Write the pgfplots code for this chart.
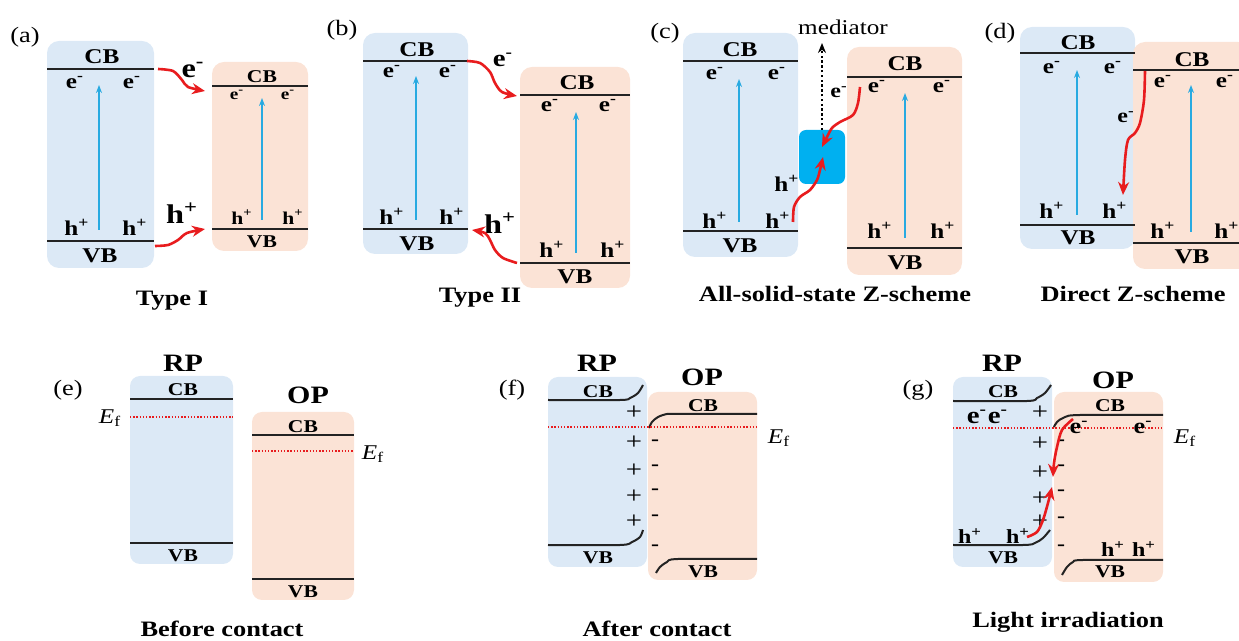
\documentclass[border=0pt]{standalone}
\usepackage{pgfplots}
\pgfplotsset{compat=1.18}
\usepackage{fontspec}
\setmainfont{Liberation Serif}[FakeStretch=1.2]
\usetikzlibrary{arrows.meta}
\definecolor{bxb}{RGB}{220,233,246}
\definecolor{bxo}{RGB}{251,227,214}
\definecolor{med}{RGB}{0,176,240}
\definecolor{arb}{RGB}{40,170,225}
\definecolor{rd}{RGB}{232,28,30}
\definecolor{lc}{RGB}{35,35,35}
\newcommand{\fs}[1]{\fontsize{#1}{#1}\selectfont}
\newcommand{\el}{e\textsuperscript{-}}
\newcommand{\hl}{h\textsuperscript{+}}
\newcommand{\Ef}{\textit{E}\textsubscript{f}}
\pgfplotsset{
  bl/.style={line width=1pt, color=lc},
  ba/.style={line width=0.8pt, color=arb, -{Stealth[length=4pt,width=3pt]}},
  ra/.style={line width=1.3pt, color=rd, smooth, -{Stealth[length=6.5pt,width=5.5pt]}},
  ef/.style={line width=0.8pt, color=rd, dash pattern=on 0.7pt off 0.9pt},
  rb/.style={fill=bxb, draw=none, rounded corners=6pt},
  ro/.style={fill=bxo, draw=none, rounded corners=6pt},
}
\begin{document}
\begin{tikzpicture}[every node/.style={inner sep=0pt}]
\begin{axis}[width=619.5pt,height=320.5pt,scale only axis,
  xmin=0,xmax=1239,ymin=0,ymax=641,y dir=reverse,hide axis,clip=true,no markers]
\addplot[draw=none] coordinates {(0,0) (1239,641)};
% ---------- boxes ----------
\addplot[rb] coordinates {(100.5,41) (154,41) (154,268) (47,268) (47,41) (100.5,41)};
\addplot[ro] coordinates {(260,62) (308,62) (308,251) (212,251) (212,62) (260,62)};
\addplot[rb] coordinates {(415.5,33) (468,33) (468,254) (363,254) (363,33) (415.5,33)};
\addplot[ro] coordinates {(575,67) (630,67) (630,288) (520,288) (520,67) (575,67)};
\addplot[rb] coordinates {(740.5,33) (798,33) (798,257) (683,257) (683,33) (740.5,33)};
\addplot[ro] coordinates {(904.5,47) (962,47) (962,275) (847,275) (847,47) (904.5,47)};
\addplot[fill=med,draw=none,rounded corners=3.5pt] coordinates {(822,130) (845,130) (845,184) (799,184) (799,130) (822,130)};
\addplot[rb] coordinates {(1077.5,27) (1135,27) (1135,249) (1020,249) (1020,27) (1077.5,27)};
\addplot[ro] coordinates {(1191.5,42) (1250,42) (1250,269) (1133,269) (1133,42) (1191.5,42)};
\addplot[rb,rounded corners=5pt] coordinates {(181.5,376) (233,376) (233,564) (130,564) (130,376) (181.5,376)};
\addplot[ro,rounded corners=5pt] coordinates {(303,412) (354,412) (354,600) (252,600) (252,412) (303,412)};
\addplot[rb,rounded corners=5pt] coordinates {(597.5,377) (647,377) (647,567) (548,567) (548,377) (597.5,377)};
\addplot[ro,rounded corners=5pt] coordinates {(702.5,392) (757,392) (757,580) (648,580) (648,392) (702.5,392)};
\addplot[rb,rounded corners=5pt] coordinates {(1002.5,377) (1052,377) (1052,567) (953,567) (953,377) (1002.5,377)};
\addplot[ro,rounded corners=5pt] coordinates {(1108.5,392) (1163,392) (1163,582) (1054,582) (1054,392) (1108.5,392)};
% ---------- band lines ----------
\addplot[bl] coordinates {(47,69) (154,69)};
\addplot[bl] coordinates {(47,241) (154,241)};
\addplot[bl] coordinates {(212,86) (308,86)};
\addplot[bl] coordinates {(212,229) (308,229)};
\addplot[bl] coordinates {(363,61) (468,61)};
\addplot[bl] coordinates {(363,229) (468,229)};
\addplot[bl] coordinates {(520,95) (630,95)};
\addplot[bl] coordinates {(520,263) (630,263)};
\addplot[bl] coordinates {(683,61) (798,61)};
\addplot[bl] coordinates {(683,231) (798,231)};
\addplot[bl] coordinates {(847,77) (962,77)};
\addplot[bl] coordinates {(847,248) (962,248)};
\addplot[bl] coordinates {(1020,53) (1135,53)};
\addplot[bl] coordinates {(1020,225) (1135,225)};
\addplot[bl] coordinates {(1133,70) (1239,70)};
\addplot[bl] coordinates {(1133,243) (1239,243)};
\addplot[bl] coordinates {(130,399) (233,399)};
\addplot[bl] coordinates {(130,543) (233,543)};
\addplot[bl] coordinates {(252,435) (354,435)};
\addplot[bl] coordinates {(252,579) (354,579)};
\addplot[bl,smooth] coordinates {(548,400) (620,400) (630,398) (638,393) (643,385)};
\addplot[bl,smooth] coordinates {(548,545) (620,545) (632,542) (640,537) (643,530)};
\addplot[bl,smooth] coordinates {(649,428) (652,422) (658,417) (667,414) (677,414) (757,414)};
\addplot[bl,smooth] coordinates {(656,573) (660,567) (667,562) (678,559) (757,559)};
\addplot[bl,smooth] coordinates {(953,401) (1027,401) (1037,398) (1045,393) (1051,385)};
\addplot[bl,smooth] coordinates {(953,545) (1023,545) (1035,543) (1043,538) (1050,530)};
\addplot[bl,smooth] coordinates {(1054,427) (1057,422) (1065,417) (1080,415) (1163,415)};
\addplot[bl,smooth] coordinates {(1062,575) (1067,567) (1073,562) (1083,560) (1163,560)};
% Fermi levels
\addplot[ef] coordinates {(130,417) (233,417)};
\addplot[ef] coordinates {(252,451) (354,451)};
\addplot[ef] coordinates {(548,427) (757,427)};
\addplot[ef] coordinates {(953,428) (1162,428)};
% ---------- blue excitation arrows ----------
\addplot[ba] coordinates {(99,230) (99,85)};
\addplot[ba] coordinates {(262,220) (262,98)};
\addplot[ba] coordinates {(416,220) (416,76)};
\addplot[ba] coordinates {(576,253) (576,112)};
\addplot[ba] coordinates {(739,222) (739,79)};
\addplot[ba] coordinates {(905,238) (905,93)};
\addplot[ba] coordinates {(1077,215) (1077,70)};
\addplot[ba] coordinates {(1191,232) (1191,85)};
% ---------- texts ----------
% (a)
\node[font=\fs{11}] at (axis cs:25,37) {(a)};
\node[font=\fs{10.5}\bfseries] at (axis cs:102,57) {CB};
\node[font=\fs{10.5}\bfseries] at (axis cs:75,83) {\el};
\node[font=\fs{10.5}\bfseries] at (axis cs:132,83) {\el};
\node[font=\fs{10.5}\bfseries] at (axis cs:77,227) {\hl};
\node[font=\fs{10.5}\bfseries] at (axis cs:135,227) {\hl};
\node[font=\fs{10.5}\bfseries] at (axis cs:100,256) {VB};
\node[font=\fs{9}\bfseries] at (axis cs:262,77) {CB};
\node[font=\fs{8}\bfseries] at (axis cs:237,95) {\el};
\node[font=\fs{8}\bfseries] at (axis cs:288,95) {\el};
\node[font=\fs{9}\bfseries] at (axis cs:242,217) {\hl};
\node[font=\fs{9}\bfseries] at (axis cs:293,217) {\hl};
\node[font=\fs{9}\bfseries] at (axis cs:262,242) {VB};
\node[font=\fs{13.5}\bfseries] at (axis cs:193,70) {\el};
\node[font=\fs{13.5}\bfseries] at (axis cs:182,213) {\hl};
\node[font=\fs{11}\bfseries,anchor=base] at (axis cs:172,306) {Type I};
% (b)
\node[font=\fs{11}] at (axis cs:342,30) {(b)};
\node[font=\fs{10.5}\bfseries] at (axis cs:417,50) {CB};
\node[font=\fs{10.5}\bfseries] at (axis cs:392,72) {\el};
\node[font=\fs{10.5}\bfseries] at (axis cs:448,72) {\el};
\node[font=\fs{10.5}\bfseries] at (axis cs:392,216) {\hl};
\node[font=\fs{10.5}\bfseries] at (axis cs:452,216) {\hl};
\node[font=\fs{10.5}\bfseries] at (axis cs:417,244) {VB};
\node[font=\fs{10.5}\bfseries] at (axis cs:577,83) {CB};
\node[font=\fs{10.5}\bfseries] at (axis cs:550,106) {\el};
\node[font=\fs{10.5}\bfseries] at (axis cs:608,106) {\el};
\node[font=\fs{10.5}\bfseries] at (axis cs:552,249) {\hl};
\node[font=\fs{10.5}\bfseries] at (axis cs:613,249) {\hl};
\node[font=\fs{10.5}\bfseries] at (axis cs:575,277) {VB};
\node[font=\fs{12}\bfseries] at (axis cs:503,60) {\el};
\node[font=\fs{13.5}\bfseries] at (axis cs:500,223) {\hl};
\node[font=\fs{11}\bfseries,anchor=base] at (axis cs:480,303) {Type II};
% (c)
\node[font=\fs{11}] at (axis cs:665,33) {(c)};
\node[font=\fs{10.5}] at (axis cs:843,27) {mediator};
\node[font=\fs{10.5}\bfseries] at (axis cs:740,50) {CB};
\node[font=\fs{10.5}\bfseries] at (axis cs:715,74) {\el};
\node[font=\fs{10.5}\bfseries] at (axis cs:777,74) {\el};
\node[font=\fs{10.5}\bfseries] at (axis cs:715,220) {\hl};
\node[font=\fs{10.5}\bfseries] at (axis cs:778,220) {\hl};
\node[font=\fs{10.5}\bfseries] at (axis cs:740,246) {VB};
\node[font=\fs{10.5}\bfseries] at (axis cs:905,64) {CB};
\node[font=\fs{10.5}\bfseries] at (axis cs:877,87) {\el};
\node[font=\fs{10.5}\bfseries] at (axis cs:942,87) {\el};
\node[font=\fs{10.5}\bfseries] at (axis cs:880,230) {\hl};
\node[font=\fs{10.5}\bfseries] at (axis cs:943,230) {\hl};
\node[font=\fs{10.5}\bfseries] at (axis cs:905,263) {VB};
\node[font=\fs{10}\bfseries] at (axis cs:839,92) {\el};
\node[font=\fs{10.5}\bfseries] at (axis cs:787,183) {\hl};
\node[font=\fs{11}\bfseries,anchor=base] at (axis cs:835,302) {All-solid-state Z-scheme};
% (d)
\node[font=\fs{11}] at (axis cs:1000,33) {(d)};
\node[font=\fs{10.5}\bfseries] at (axis cs:1078,43) {CB};
\node[font=\fs{10.5}\bfseries] at (axis cs:1052,68) {\el};
\node[font=\fs{10.5}\bfseries] at (axis cs:1113,68) {\el};
\node[font=\fs{10.5}\bfseries] at (axis cs:1052,210) {\hl};
\node[font=\fs{10.5}\bfseries] at (axis cs:1115,210) {\hl};
\node[font=\fs{10.5}\bfseries] at (axis cs:1078,238) {VB};
\node[font=\fs{10.5}\bfseries] at (axis cs:1192,60) {CB};
\node[font=\fs{10.5}\bfseries] at (axis cs:1163,82) {\el};
\node[font=\fs{10.5}\bfseries] at (axis cs:1225,82) {\el};
\node[font=\fs{10.5}\bfseries] at (axis cs:1163,230) {\hl};
\node[font=\fs{10.5}\bfseries] at (axis cs:1227,230) {\hl};
\node[font=\fs{10.5}\bfseries] at (axis cs:1192,257) {VB};
\node[font=\fs{10}\bfseries] at (axis cs:1126,117) {\el};
\node[font=\fs{11}\bfseries,anchor=base] at (axis cs:1133,302) {Direct Z-scheme};
% (e)
\node[font=\fs{11}] at (axis cs:68,390) {(e)};
\node[font=\fs{12.5}\bfseries] at (axis cs:183,363) {RP};
\node[font=\fs{9}\bfseries] at (axis cs:183,390) {CB};
\node[font=\fs{9}\bfseries] at (axis cs:183,556) {VB};
\node[font=\fs{10.5}] at (axis cs:110,418) {\Ef};
\node[font=\fs{12.5}\bfseries] at (axis cs:308,395) {OP};
\node[font=\fs{9}\bfseries] at (axis cs:303,427) {CB};
\node[font=\fs{9}\bfseries] at (axis cs:303,592) {VB};
\node[font=\fs{10.5}] at (axis cs:373,454) {\Ef};
\node[font=\fs{11}\bfseries,anchor=base] at (axis cs:222,637) {Before contact};
% (f)
\node[font=\fs{11}] at (axis cs:512,390) {(f)};
\node[font=\fs{12.5}\bfseries] at (axis cs:597,363) {RP};
\node[font=\fs{9}\bfseries] at (axis cs:598,392) {CB};
\node[font=\fs{9}\bfseries] at (axis cs:598,558) {VB};
\node[font=\fs{12.5}\bfseries] at (axis cs:702,377) {OP};
\node[font=\fs{9}\bfseries] at (axis cs:703,406) {CB};
\node[font=\fs{9}\bfseries] at (axis cs:703,572) {VB};
\node[font=\fs{10.5}] at (axis cs:779,438) {\Ef};
\node[font=\fs{12}] at (axis cs:634,413) {+};
\node[font=\fs{12}] at (axis cs:634,443) {+};
\node[font=\fs{12}] at (axis cs:634,471) {+};
\node[font=\fs{12}] at (axis cs:634,497) {+};
\node[font=\fs{12}] at (axis cs:634,522) {+};
\node[font=\fs{10}\bfseries] at (axis cs:655,443) {-};
\node[font=\fs{10}\bfseries] at (axis cs:655,468) {-};
\node[font=\fs{10}\bfseries] at (axis cs:655,492) {-};
\node[font=\fs{10}\bfseries] at (axis cs:655,518) {-};
\node[font=\fs{10}\bfseries] at (axis cs:655,548) {-};
\node[font=\fs{11}\bfseries,anchor=base] at (axis cs:657,637) {After contact};
% (g)
\node[font=\fs{11}] at (axis cs:918,390) {(g)};
\node[font=\fs{12.5}\bfseries] at (axis cs:1002,363) {RP};
\node[font=\fs{9}\bfseries] at (axis cs:1003,392) {CB};
\node[font=\fs{12}\bfseries] at (axis cs:977,417) {\el};
\node[font=\fs{12}\bfseries] at (axis cs:998,417) {\el};
\node[font=\fs{10}\bfseries] at (axis cs:970,536) {\hl};
\node[font=\fs{10}\bfseries] at (axis cs:1018,536) {\hl};
\node[font=\fs{9}\bfseries] at (axis cs:1003,558) {VB};
\node[font=\fs{12.5}\bfseries] at (axis cs:1113,380) {OP};
\node[font=\fs{9}\bfseries] at (axis cs:1110,406) {CB};
\node[font=\fs{11}\bfseries] at (axis cs:1079,427) {\el};
\node[font=\fs{11}\bfseries] at (axis cs:1143,427) {\el};
\node[font=\fs{10}\bfseries] at (axis cs:1113,549) {\hl};
\node[font=\fs{10}\bfseries] at (axis cs:1144,549) {\hl};
\node[font=\fs{9}\bfseries] at (axis cs:1110,572) {VB};
\node[font=\fs{10.5}] at (axis cs:1185,438) {\Ef};
\node[font=\fs{12}] at (axis cs:1040,413) {+};
\node[font=\fs{12}] at (axis cs:1040,444) {+};
\node[font=\fs{12}] at (axis cs:1040,473) {+};
\node[font=\fs{12}] at (axis cs:1040,499) {+};
\node[font=\fs{12}] at (axis cs:1040,522) {+};
\node[font=\fs{10}\bfseries] at (axis cs:1061,443) {-};
\node[font=\fs{10}\bfseries] at (axis cs:1061,468) {-};
\node[font=\fs{10}\bfseries] at (axis cs:1061,493) {-};
\node[font=\fs{10}\bfseries] at (axis cs:1061,520) {-};
\node[font=\fs{10}\bfseries] at (axis cs:1061,548) {-};
\node[font=\fs{11}\bfseries,anchor=base] at (axis cs:1068,628) {Light irradiation};
% ---------- red transfer arrows ----------
\addplot[ra] coordinates {(158,69) (173,71) (182,80) (188,87) (205,91)};
\addplot[ra] coordinates {(155,246) (168,245) (178,240) (187,233) (205,229)};
\addplot[ra] coordinates {(467,61) (480,63) (490,72) (495,83) (502,92) (517,96)};
\addplot[ra] coordinates {(517,263) (503,258) (495,250) (490,240) (485,233) (472,230)};
\addplot[line width=0.9pt, color=black, dash pattern=on 1.2pt off 1.2pt, -{Stealth[length=5pt,width=4pt]}] coordinates {(822,130) (822,43)};
\addplot[ra] coordinates {(860,87) (858,103) (853,115) (840,122) (832,128) (827,137) (822,147)};
\addplot[ra] coordinates {(793,222) (794,207) (800,197) (810,190) (817,180) (820,170) (823,157)};
\addplot[ra] coordinates {(1145,71) (1144,100) (1140,123) (1135,133) (1128,140) (1125,160) (1123,195)};
\addplot[ra] coordinates {(1073,419) (1062,430) (1057,447) (1054,463) (1053,477)};
\addplot[ra] coordinates {(1027,537) (1037,532) (1043,520) (1048,503) (1052,487)};
\end{axis}
\end{tikzpicture}
\end{document}
